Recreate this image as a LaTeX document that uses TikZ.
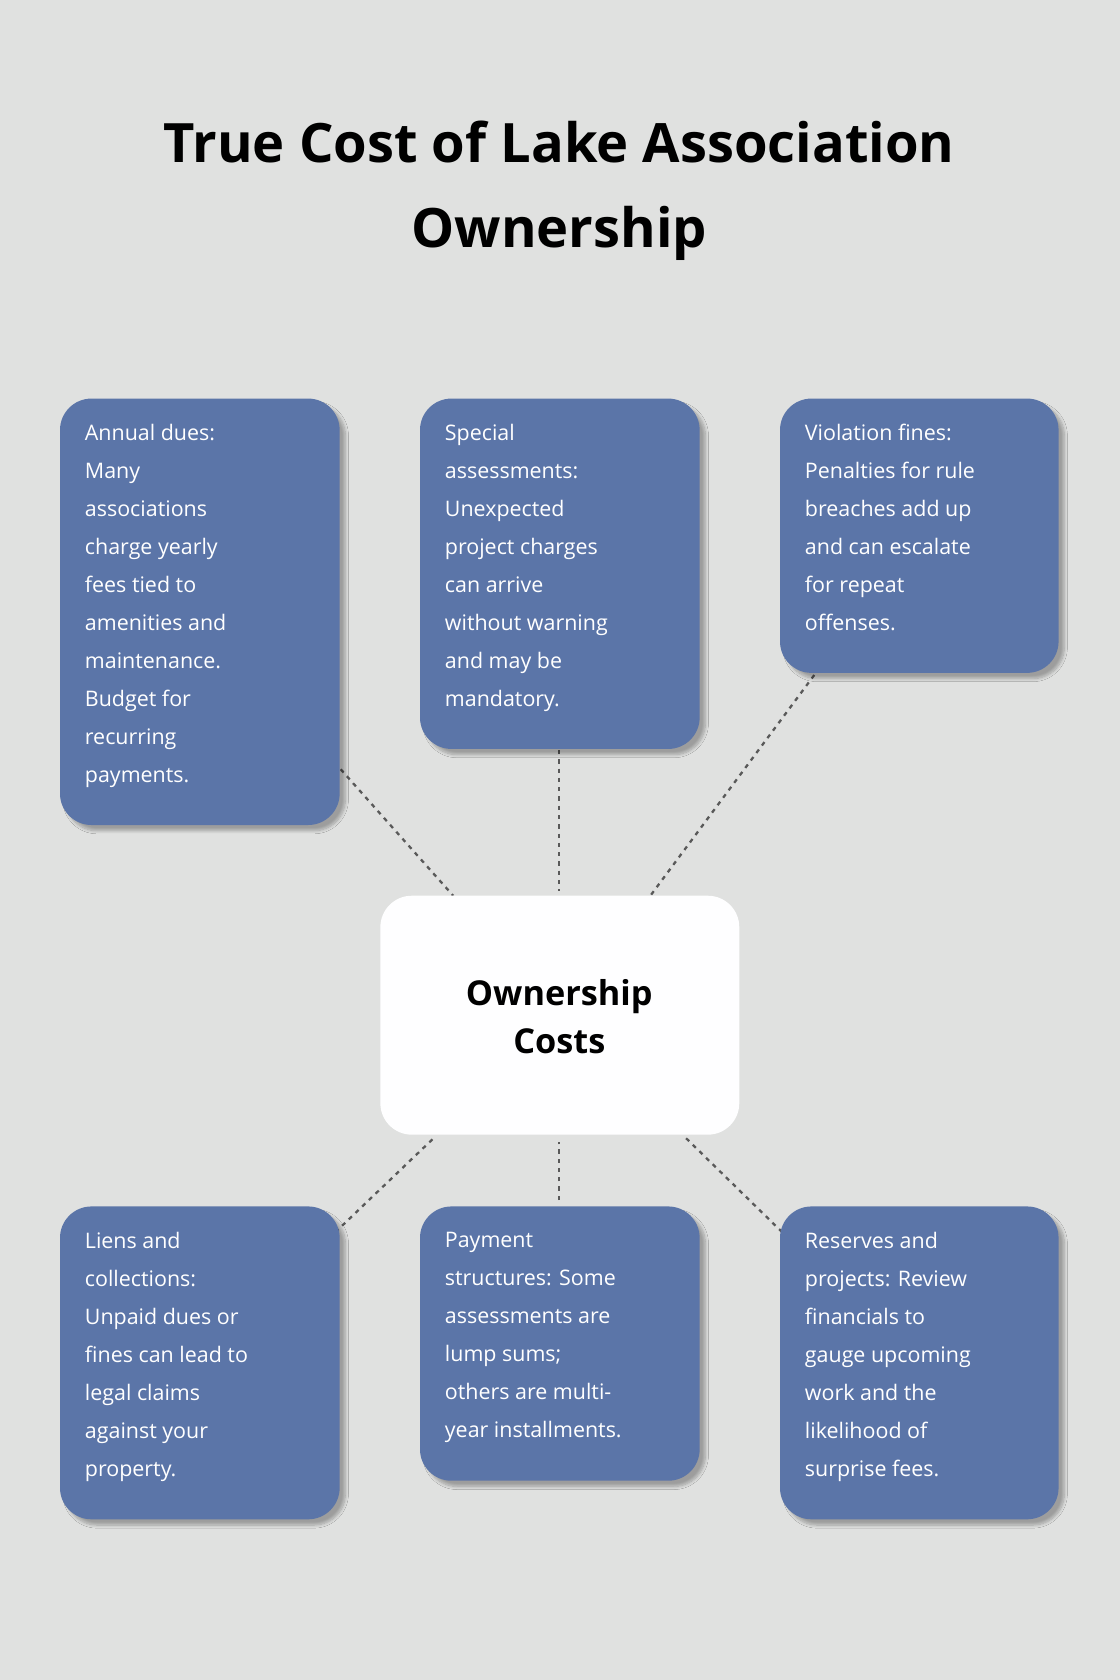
\documentclass[tikz,border=0pt]{standalone}
\usepackage{fontspec}
\setmainfont{Open Sans}
\usetikzlibrary{shadows.blur}
\begin{document}
\begin{tikzpicture}[x=0.75pt,y=-0.75pt,
 card/.style={draw=none,fill=cardblue,rounded corners=22pt,blur shadow={shadow blur steps=8,shadow xshift=4pt,shadow yshift=-4pt,shadow opacity=30}},
 txt/.style={anchor=north west,align=left,inner sep=0pt,text=white,font=\fontsize{15}{26.6}\selectfont},
 conn/.style={draw=black!65,line width=1.6pt,dash pattern=on 3pt off 3.5pt}]
\definecolor{cardblue}{HTML}{5B75A8}
\definecolor{bg}{HTML}{E0E1E0}
\fill[bg] (0,0) rectangle (1045,1568);
\useasboundingbox (0,0) rectangle (1045,1568);
\node[font=\bfseries\fontsize{38}{60}\selectfont,align=center] (title) at (522,178) {True Cost of Lake Association\\Ownership};
% connectors first
\coordinate (c1) at (318,718); \coordinate (m1) at (423,836);
\coordinate (c2) at (522,700); \coordinate (m2) at (522,832);
\coordinate (c3) at (760,630); \coordinate (m3) at (607,836);
\coordinate (c4) at (313,1150); \coordinate (m4) at (405,1062);
\coordinate (c5) at (522,1120); \coordinate (m5) at (522,1066);
\coordinate (c6) at (730,1150); \coordinate (m6) at (640,1062);
\foreach \a/\b in {c1/m1,c2/m2,c3/m3,c4/m4,c5/m5,c6/m6} \draw[conn] (\a)--(\b);
\path[card] (56,372) rectangle (317,770);
\path[card] (392,372) rectangle (653,699);
\path[card] (728,372) rectangle (988,628);
\path[card] (56,1126) rectangle (317,1418);
\path[card] (392,1126) rectangle (653,1382);
\path[card] (728,1126) rectangle (988,1418);
\path[fill=white!90!blue!3,rounded corners=22pt] (355,836) rectangle (690,1059);
\node[font=\bfseries\fontsize{24}{34}\selectfont,align=center] (center) at (522,949) {Ownership\\Costs};
\node[txt] (t1) at (79,396) {Annual dues:\\Many\\associations\\charge yearly\\fees tied to\\amenities and\\maintenance.\\Budget for\\recurring\\payments.};
\node[txt] (t2) at (415,396) {Special\\assessments:\\Unexpected\\project charges\\can arrive\\without warning\\and may be\\mandatory.};
\node[txt] (t3) at (751,396) {Violation fines:\\Penalties for rule\\breaches add up\\and can escalate\\for repeat\\offenses.};
\node[txt] (t4) at (79,1150) {Liens and\\collections:\\Unpaid dues or\\fines can lead to\\legal claims\\against your\\property.};
\node[txt] (t5) at (415,1150) {Payment\\structures: Some\\assessments are\\lump sums;\\others are multi-\\year installments.};
\node[txt] (t6) at (751,1150) {Reserves and\\projects: Review\\financials to\\gauge upcoming\\work and the\\likelihood of\\surprise fees.};
\end{tikzpicture}
\end{document}
